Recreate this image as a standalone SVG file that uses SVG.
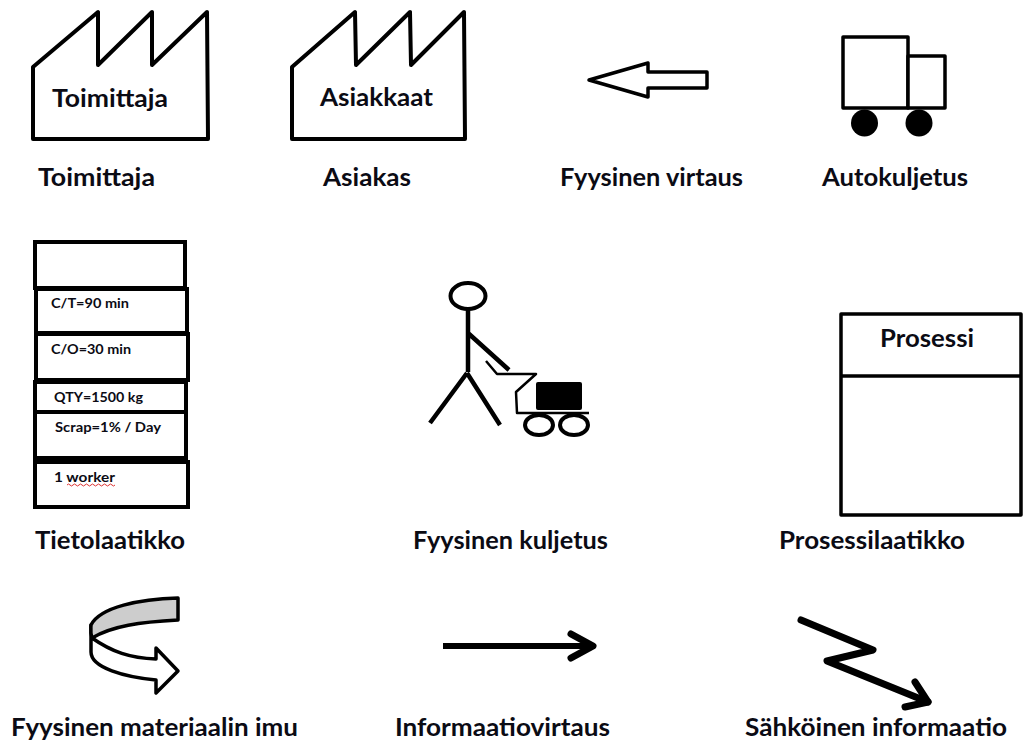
<svg xmlns="http://www.w3.org/2000/svg" width="1026" height="747" viewBox="0 0 1026 747">
<style>
.s{fill:none;stroke:#000;stroke-width:4;stroke-linejoin:round;stroke-linecap:round}
.p{fill:none;stroke:#000;stroke-width:4.500;stroke-linejoin:round;stroke-linecap:butt}
.w{fill:#fff;stroke:#000;stroke-width:3.500;stroke-linejoin:round}
.b{stroke:#000;stroke-width:4;fill:none}
.thin{stroke:#000;stroke-width:2.500;fill:none;stroke-linejoin:round}
.arrow{stroke:#000;stroke-width:7;fill:none;stroke-linejoin:round;stroke-linecap:round}
text{font-family:Lato,"Open Sans","Liberation Sans",sans-serif;font-weight:700;fill:#0b0b14}
.l{font-size:24px}
.m{font-size:13.500px}
</style>
<rect width="1026" height="747" fill="#fff"/>
<g id="toimittaja">
<path class="s" d="M33 67L98 12V65L152 12V65L207 12L208 139H33Z"/>
<text class="l" x="52" y="107" textLength="116" lengthAdjust="spacingAndGlyphs">Toimittaja</text>
<text class="l" x="38" y="185.500" textLength="117" lengthAdjust="spacingAndGlyphs">Toimittaja</text>
</g>
<g id="asiakas">
<path class="s" d="M292 67L355 12L356 65L410 12L411 65L464 12L465 139H292Z"/>
<text class="l" x="320" y="105.500" textLength="113" lengthAdjust="spacingAndGlyphs">Asiakkaat</text>
<text class="l" x="323" y="185.500" textLength="88" lengthAdjust="spacingAndGlyphs">Asiakas</text>
</g>
<g id="fyysinen-virtaus">
<path class="w" d="M589 80L648 63V72H707V88H648V97Z"/>
<text class="l" x="560" y="185.500" textLength="183" lengthAdjust="spacingAndGlyphs">Fyysinen virtaus</text>
</g>
<g id="autokuljetus">
<rect class="w" x="843" y="37" width="65" height="71"/>
<rect class="w" x="908" y="56" width="37" height="52"/>
<circle cx="864.500" cy="123" r="13.500"/>
<circle cx="919" cy="123" r="13.500"/>
<text class="l" x="822" y="185.500" textLength="146" lengthAdjust="spacingAndGlyphs">Autokuljetus</text>
</g>
<g id="tietolaatikko">
<rect class="b" x="35" y="242" width="150" height="46"/>
<rect class="b" x="36" y="289" width="151" height="44"/>
<rect class="b" x="36" y="334" width="152" height="46"/>
<rect class="b" x="35" y="382" width="151" height="30"/>
<rect class="b" x="35" y="412" width="151" height="46"/>
<rect class="b" x="35" y="462" width="153" height="45"/>
<text class="m" x="51" y="308" textLength="78" lengthAdjust="spacingAndGlyphs">C/T=90 min</text>
<text class="m" x="51" y="354" textLength="80" lengthAdjust="spacingAndGlyphs">C/O=30 min</text>
<text class="m" x="54" y="402" textLength="89" lengthAdjust="spacingAndGlyphs">QTY=1500 kg</text>
<text class="m" x="55" y="432" textLength="106" lengthAdjust="spacingAndGlyphs">Scrap=1% / Day</text>
<text class="m" x="54" y="482" textLength="61" lengthAdjust="spacingAndGlyphs">1 worker</text>
<path d="M67 485q1.500-2 3 0t3 0t3 0t3 0t3 0t3 0t3 0t3 0t3 0t3 0t3 0t3 0t3 0t3 0t3 0t3 0" fill="none" stroke="#d33" stroke-width="1"/>
<text class="l" x="35" y="548.500" textLength="150" lengthAdjust="spacingAndGlyphs">Tietolaatikko</text>
</g>
<g id="fyysinen-kuljetus">
<ellipse class="s" cx="468" cy="296" rx="17.500" ry="13"/>
<path class="p" d="M468 309V372M468 333L509 370M467 373L430 423M467 373L500 425"/>
<path class="thin" d="M486 361L497 374H536L516 392L517 413H589"/>
<rect x="536" y="382" width="46" height="28" rx="2"/>
<ellipse class="s" cx="539" cy="425" rx="14" ry="10"/>
<ellipse class="s" cx="574" cy="425" rx="14" ry="10"/>
<text class="l" x="413" y="548.500" textLength="195" lengthAdjust="spacingAndGlyphs">Fyysinen kuljetus</text>
</g>
<g id="prosessilaatikko">
<rect class="w" x="841" y="314" width="180" height="201"/>
<path class="b" style="stroke-width:3.500" d="M841 376H1021"/>
<text class="l" x="880" y="346.500" textLength="94" lengthAdjust="spacingAndGlyphs">Prosessi</text>
<text class="l" x="779" y="548.500" textLength="186" lengthAdjust="spacingAndGlyphs">Prosessilaatikko</text>
</g>
<g id="materiaalin-imu">
<path class="w" d="M92 638C112 652 130 658 156 659V648L178 671L156 693V680C125 677 91 668 91 652V625Z"/>
<path d="M178 598V620C140 622 112 626 92 638C90 632 91 628 91 625C100 607 140 599 178 598Z" fill="#cdcdcd" stroke="#000" stroke-width="3.500" stroke-linejoin="round"/>
<text class="l" x="11" y="735.500" textLength="287" lengthAdjust="spacingAndGlyphs">Fyysinen materiaalin imu</text>
</g>
<g id="connectors">
<path class="arrow" style="stroke-linecap:butt;stroke-width:6" d="M443 646H592"/>
<path class="arrow" d="M571 634L593 646L571 658"/>
<path class="arrow" d="M801 620L873 650L827 661L928 702"/>
<path class="arrow" d="M915 682L928 702L905 707"/>
</g>
<g id="informaatiovirtaus">
<text class="l" x="395" y="735.500" textLength="215" lengthAdjust="spacingAndGlyphs">Informaatiovirtaus</text>
</g>
<g id="sahkoinen-informaatio">
<text class="l" x="745" y="735.500" textLength="262" lengthAdjust="spacingAndGlyphs">Sähköinen informaatio</text>
</g>
</svg>
